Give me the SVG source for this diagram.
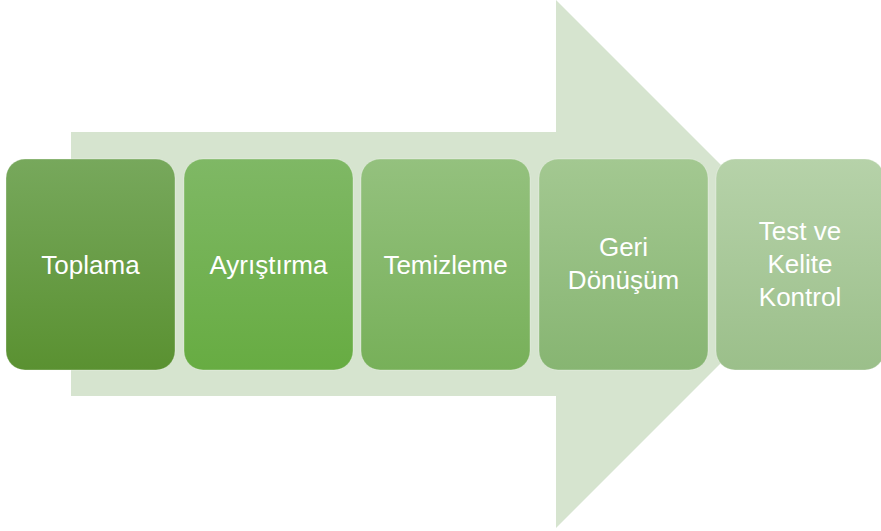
<svg xmlns="http://www.w3.org/2000/svg" width="881" height="531" viewBox="0 0 881 531">
<defs>
<linearGradient id="g1" x1="0" y1="0" x2="0" y2="1"><stop offset="0" stop-color="#77a85c"/><stop offset="1" stop-color="#5a9131"/></linearGradient>
<linearGradient id="g2" x1="0" y1="0" x2="0" y2="1"><stop offset="0" stop-color="#7fb865"/><stop offset="1" stop-color="#67ac42"/></linearGradient>
<linearGradient id="g3" x1="0" y1="0" x2="0" y2="1"><stop offset="0" stop-color="#94c17e"/><stop offset="1" stop-color="#77b059"/></linearGradient>
<linearGradient id="g4" x1="0" y1="0" x2="0" y2="1"><stop offset="0" stop-color="#a3c891"/><stop offset="1" stop-color="#87b572"/></linearGradient>
<linearGradient id="g5" x1="0" y1="0" x2="0" y2="1"><stop offset="0" stop-color="#b6d2a9"/><stop offset="1" stop-color="#9bbf8a"/></linearGradient>
</defs>
<style>
.box{stroke:#ffffff;stroke-width:1;stroke-opacity:0.3}
.t{font-family:"Liberation Sans",Arial,sans-serif;font-size:26px;fill:#ffffff;text-anchor:middle}
</style>
<rect width="881" height="531" fill="#ffffff"/>
<g id="arrow">
<path d="M71 132 H556 V0 L820 264 L556 528 V396 H71 Z" fill="#d6e4cf"/>
</g>
<g id="connectors"></g>
<g id="n1"><rect class="box" x="6" y="159" width="169" height="211" rx="19" fill="url(#g1)"/><text class="t" x="90.5" y="274">Toplama</text></g>
<g id="n2"><rect class="box" x="184" y="159" width="169" height="211" rx="19" fill="url(#g2)"/><text class="t" x="268.5" y="274">Ayrıştırma</text></g>
<g id="n3"><rect class="box" x="361" y="159" width="169" height="211" rx="19" fill="url(#g3)"/><text class="t" x="445.5" y="274">Temizleme</text></g>
<g id="n4"><rect class="box" x="539" y="159" width="169" height="211" rx="19" fill="url(#g4)"/><text class="t" x="623.5" y="256">Geri</text><text class="t" x="623.5" y="289">Dönüşüm</text></g>
<g id="n5"><rect class="box" x="716" y="159" width="168" height="211" rx="19" fill="url(#g5)"/><text class="t" x="800" y="240">Test ve</text><text class="t" x="800" y="273">Kelite</text><text class="t" x="800" y="306">Kontrol</text></g>
</svg>
